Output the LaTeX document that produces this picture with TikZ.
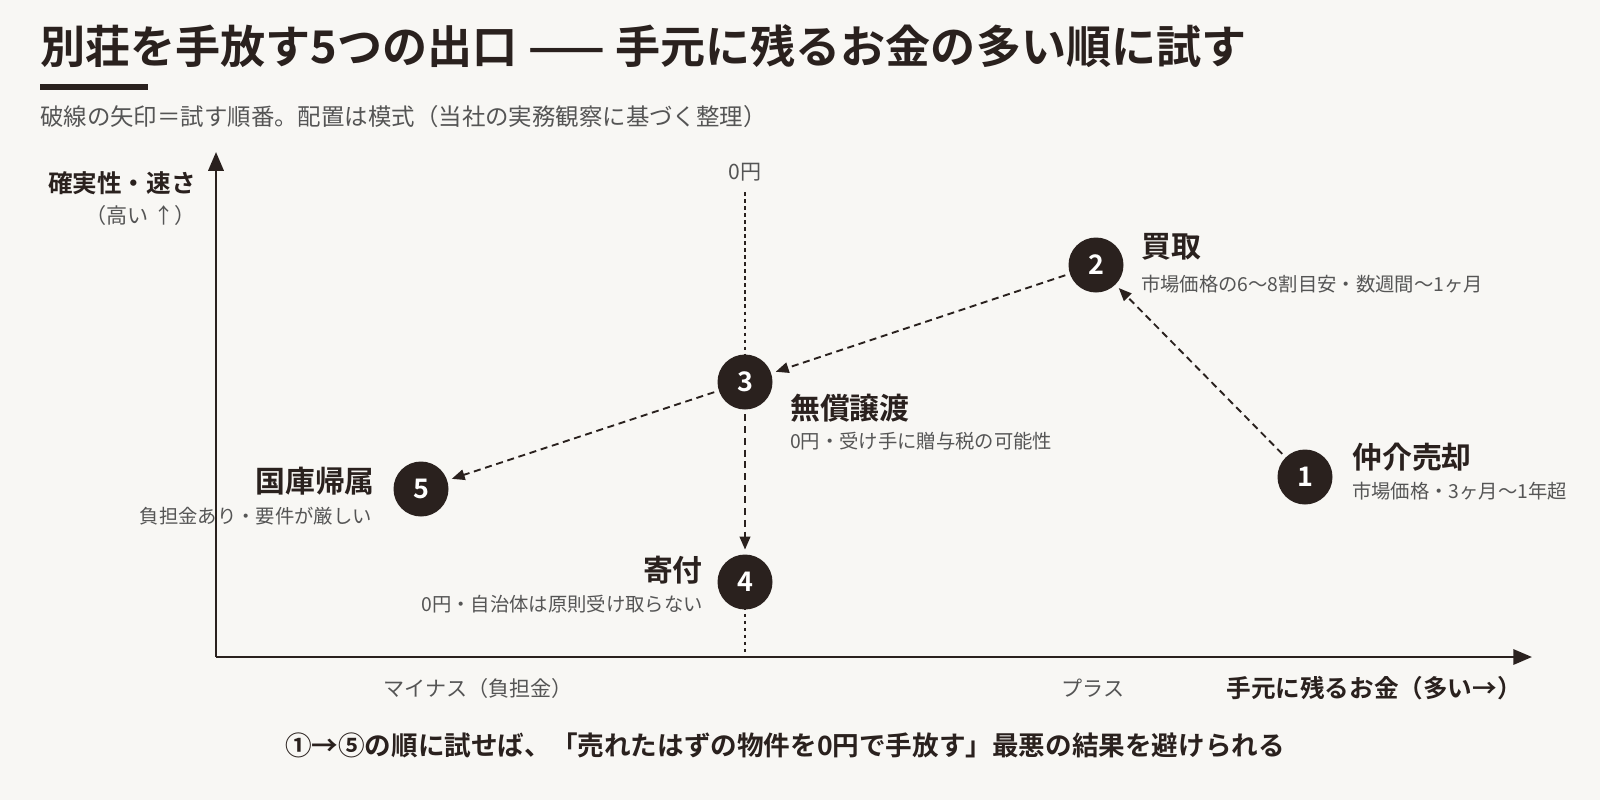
\documentclass[tikz,border=0pt]{standalone}
\usepackage{fontspec}
\setmainfont{Noto Sans CJK JP}[BoldFont={Noto Sans CJK JP Bold}]
\usetikzlibrary{arrows.meta}
\definecolor{ink}{HTML}{2A211E}
\definecolor{sub}{HTML}{555555}
\definecolor{bg}{HTML}{F8F7F4}
\begin{document}
\begin{tikzpicture}[x=0.03cm,y=-0.03cm,
  num/.style={circle,fill=ink,minimum size=55*0.03cm,inner sep=0,text=white,font=\fontsize{23}{23}\selectfont\bfseries},
  lab/.style={font=\fontsize{25.5}{28}\selectfont\bfseries,text=ink,inner sep=0},
  note/.style={font=\fontsize{16.5}{20}\selectfont,text=sub,inner sep=0},
  flow/.style={ink,line width=1.6pt,dash pattern=on 6pt off 4pt,-{Triangle[length=11pt,width=9pt]},shorten <=4pt,shorten >=4pt},
  axis/.style={ink,line width=2.2pt,-{Triangle[length=16pt,width=13pt]}}]
\fill[bg] (0,0) rectangle (1600,800);
\useasboundingbox (0,0) rectangle (1600,800);
\node[anchor=west,inner sep=0,text=ink,font=\fontsize{38.5}{42}\selectfont\bfseries] (title) at (40,46) {別荘を手放す5つの出口 —— 手元に残るお金の多い順に試す};
\fill[ink] (40,84) rectangle (148,90);
\node[anchor=west,note,font=\fontsize{20}{22}\selectfont] (subt) at (40,117) {破線の矢印＝試す順番。配置は模式（当社の実務観察に基づく整理）};
\coordinate (o) at (216,657);
\coordinate (yt) at (216,152);
\coordinate (xt) at (1532,657);
\draw[axis] (o) -- (yt);
\draw[axis] (o) -- (xt);
\node[lab,anchor=east,font=\fontsize{21}{24}\selectfont\bfseries] (ylab) at (196,183) {確実性・速さ};
\node[note,anchor=east,font=\fontsize{18}{22}\selectfont] (ylab2) at (196,215) {（高い ↑）};
\node[note,font=\fontsize{18}{22}\selectfont] (zero) at (745,172) {0円};
\coordinate (zt) at (745,192);
\coordinate (zb) at (745,655);
\draw[ink,line width=1pt,dash pattern=on 3pt off 3pt] (zt) -- (zb);
\node[num] (n1) at (1305,477) {1};
\node[num] (n2) at (1096,265) {2};
\node[num] (n3) at (745,382) {3};
\node[num] (n4) at (745,582) {4};
\node[num] (n5) at (421,489) {5};
\node[lab,anchor=west] (l1) at (1352,457) {仲介売却};
\node[note,anchor=west] (s1) at (1352,491) {市場価格・3ヶ月〜1年超};
\node[lab,anchor=west] (l2) at (1141,247) {買取};
\node[note,anchor=west] (s2) at (1141,284) {市場価格の6〜8割目安・数週間〜1ヶ月};
\node[lab,anchor=west] (l3) at (790,408) {無償譲渡};
\node[note,anchor=west] (s3) at (790,441) {0円・受け手に贈与税の可能性};
\node[lab,anchor=east] (l5) at (375,481) {国庫帰属};
\node[note,anchor=east] (s5) at (372,516) {負担金あり・要件が厳しい};
\node[lab,anchor=east] (l4) at (703,570) {寄付};
\node[note,anchor=east] (s4) at (703,604) {0円・自治体は原則受け取らない};
\draw[flow] (n1) -- (n2);
\draw[flow] (n2) -- (n3);
\draw[flow] (n3) -- (n5);
\draw[bg,line width=3pt] (n3.south) -- (n4.north);
\draw[flow] (n3) -- (n4);
\node[note,font=\fontsize{18}{22}\selectfont] (mi) at (478,688) {マイナス（負担金）};
\node[note,font=\fontsize{18}{22}\selectfont] (pl) at (1093,688) {プラス};
\node[lab,anchor=east,font=\fontsize{21}{24}\selectfont\bfseries] (xl) at (1522,688) {手元に残るお金（多い→）};
\node[lab,font=\fontsize{22.7}{26}\selectfont\bfseries] (bot) at (785,745) {①→⑤の順に試せば、「売れたはずの物件を0円で手放す」最悪の結果を避けられる};
\end{tikzpicture}
\end{document}
